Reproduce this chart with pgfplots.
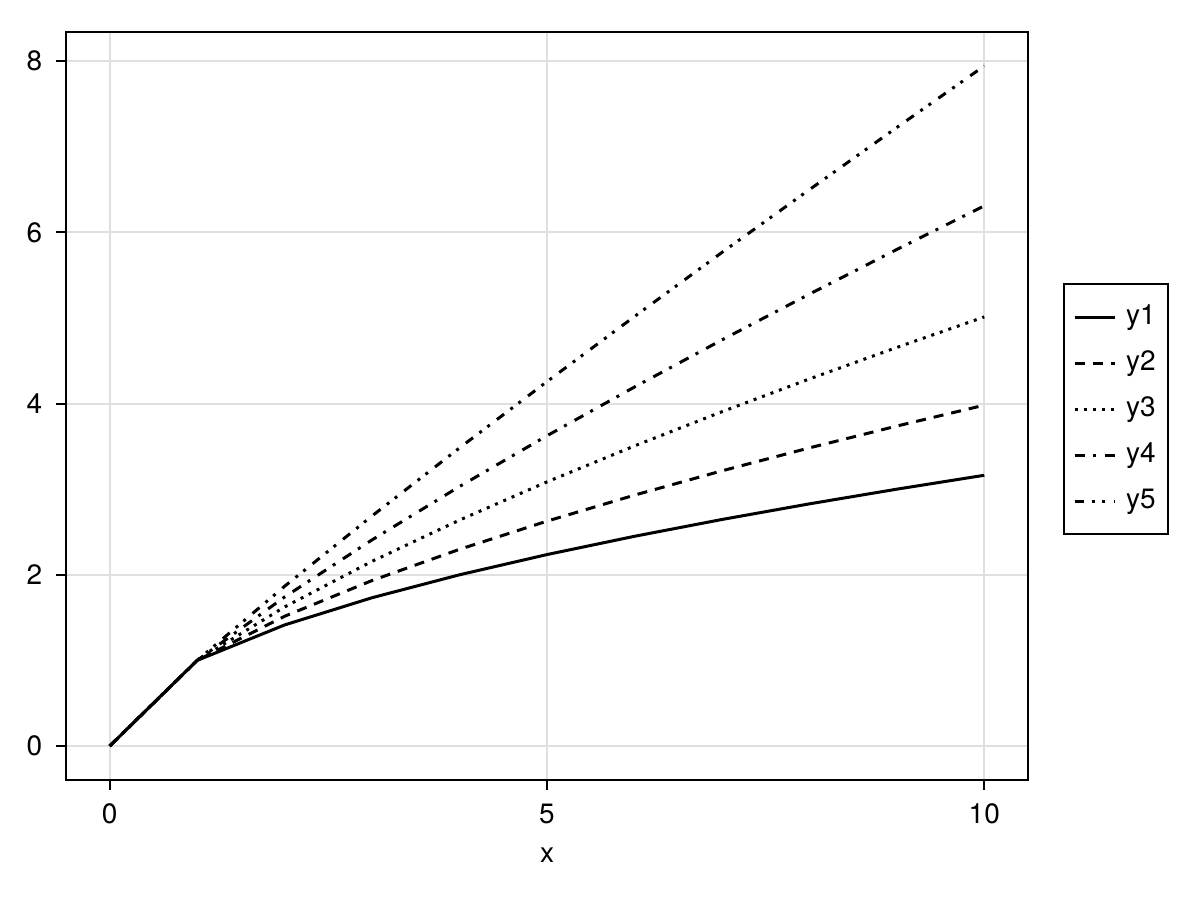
\documentclass[border=0pt]{standalone}
\usepackage{fontspec}
\setmainfont{TeX Gyre Heros}
\usepackage{pgfplots}
\usepackage{pgfplotstable}
\pgfplotsset{compat=1.18}

\pgfplotstableread{
x  y1     y2     y3     y4     y5
0  0      0      0      0      0
1  1      1      1      1      1
2  1.4142 1.5157 1.6245 1.7411 1.8661
3  1.7321 1.9332 2.1577 2.4082 2.6879
4  2.0000 2.2974 2.6390 3.0314 3.4822
5  2.2361 2.6265 3.0852 3.6239 4.2567
6  2.4495 2.9302 3.5051 4.1930 5.0165
7  2.6458 3.2141 3.9045 4.7433 5.7650
8  2.8284 3.4822 4.2871 5.2780 6.4980
9  3.0000 3.7372 4.6555 5.7995 7.2247
10 3.1623 3.9811 5.0119 6.3096 7.9433
}\datatable

\begin{document}
\fontsize{14bp}{17bp}\selectfont
\begin{tikzpicture}
\begin{axis}[
    scale only axis,
    width=481bp,
    height=374bp,
    xmin=-0.5, xmax=10.5,
    ymin=-0.397, ymax=8.34,
    xtick={0,5,10},
    ytick={0,2,4,6,8},
    xtick pos=bottom,
    ytick pos=left,
    tick align=outside,
    major tick length=5bp,
    tick style={line width=1bp, black},
    axis line style={line width=1bp},
    grid=major,
    grid style={line width=1bp, black!12},
    xlabel={x},
    xlabel style={at={(rel axis cs:0.5,0)}, anchor=center, yshift=-37.5bp},
    xticklabel style={yshift=-2bp},
    yticklabel style={xshift=-2bp},
    /pgf/number format/assume math mode=true,
    ticklabel style={font=\fontsize{14bp}{17bp}\selectfont},
    label style={font=\fontsize{14bp}{17bp}\selectfont},
    legend cell align=left,
    legend image code/.code={
        \path (0bp,0bp);
        \draw[#1] (1.5bp,0bp) -- (21.5bp,0bp);
        \path (23.5bp,0bp);
    },
    legend style={
        at={(rel axis cs:1.0364,0.6644)}, anchor=north west,
        draw=black, line width=1bp,
        inner xsep=3bp, inner ysep=8bp,
        row sep=6bp,
        font=\fontsize{14bp}{17bp}\selectfont,
        nodes={inner xsep=3bp, inner ysep=2bp, text height=10bp, text depth=3bp},
    },
]
\coordinate (O) at (rel axis cs:0,0);
\addplot[black, line width=1.5bp] table[x=x, y=y1] {\datatable};
\addplot[black, line width=1.5bp, dash pattern=on 5bp off 4bp] table[x=x, y=y2] {\datatable};
\addplot[black, line width=1.5bp, dash pattern=on 1.5bp off 3bp] table[x=x, y=y3] {\datatable};
\addplot[black, line width=1.5bp, dash pattern=on 5bp off 4bp on 1.5bp off 4.5bp] table[x=x, y=y4] {\datatable};
\addplot[black, line width=1.5bp, dash pattern=on 4.5bp off 4bp on 1.5bp off 3.5bp on 1.5bp off 4.5bp] table[x=x, y=y5] {\datatable};
\legend{y1, y2, y3, y4, y5}
\end{axis}
\pgfresetboundingbox
\path[use as bounding box, shift={(O)}] (-33bp,-60bp) rectangle (567bp,390bp);
\end{tikzpicture}
\end{document}
